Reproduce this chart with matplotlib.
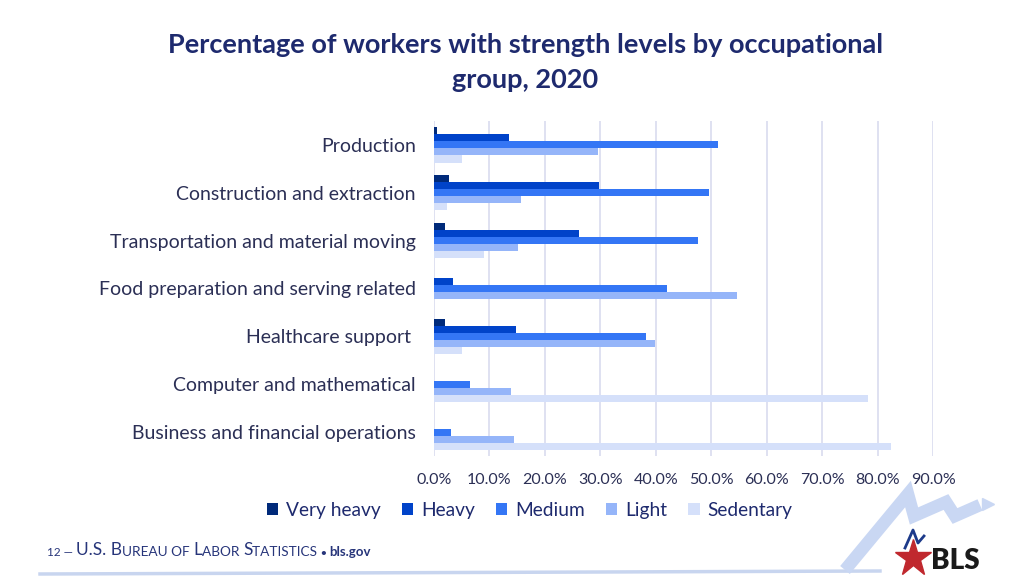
import matplotlib.pyplot as plt
import numpy as np

plt.rcParams['font.family'] = ['Lato', 'DejaVu Sans']

# occupational groups, top to bottom
groups = ["Production",
          "Construction and extraction",
          "Transportation and material moving",
          "Food preparation and serving related",
          "Healthcare support ",
          "Computer and mathematical",
          "Business and financial operations"]

levels = ["Very heavy", "Heavy", "Medium", "Light", "Sedentary"]

# percent of workers (0 = no bar shown)
very_heavy = [0.5, 2.7, 1.9, 0.0, 2.0, 0.0, 0.0]
heavy = [13.5, 29.8, 26.2, 3.4, 14.8, 0.0, 0.0]
medium = [51.2, 49.6, 47.6, 42.0, 38.3, 6.5, 3.0]
light = [29.6, 15.7, 15.2, 54.7, 39.9, 13.9, 14.4]
sedentary = [5.0, 2.3, 9.0, 0.0, 5.0, 78.3, 82.4]

colors = ['#002a7a', '#0043c9', '#3476f5', '#95b5f9', '#d5e0fa']
navy = '#1e2a6e'
foot_col = '#27357a'

fig = plt.figure(figsize=(10.24, 5.76), dpi=100)
ax = fig.add_axes([434 / 1024, 1 - 456 / 576, 499 / 1024, 335 / 576])

series = [very_heavy, heavy, medium, light, sedentary]
y = np.arange(len(groups))
h = 0.147
for k, (vals, lab) in enumerate(zip(series, levels)):
    ax.barh(y + (k - 2) * h, np.array(vals) / 100, height=h,
            color=colors[k], label=lab, zorder=3)

ticks = np.arange(0, 0.91, 0.1)
ax.set_xlim(0, 0.9)
ax.set_ylim(6.5, -0.5)
ax.set_xticks(ticks)
ax.set_xticklabels([f"{v * 100:.1f}%" for v in ticks])
ax.set_yticks(y)
ax.set_yticklabels(groups)
ax.grid(axis='x', color='#d9dcef', linewidth=1.2, zorder=0)
for s in ax.spines.values():
    s.set_visible(False)
ax.tick_params(axis='both', length=0, colors='#2b2f55')
ax.tick_params(axis='y', labelsize=14, pad=13)
ax.tick_params(axis='x', labelsize=11.5, pad=12)

fig.text(0.513, 0.922, "Percentage of workers with strength levels by occupational",
         ha='center', va='center', fontsize=19.5, fontweight='bold', color=navy)
fig.text(0.513, 0.861, "group, 2020",
         ha='center', va='center', fontsize=19.5, fontweight='bold', color=navy)

fig.legend(loc='center', bbox_to_anchor=(0.517, 0.114), ncol=5, frameon=False,
           fontsize=13.8, handlelength=0.6, handleheight=0.6, handletextpad=0.4,
           columnspacing=1.1, labelcolor=navy)

# footer, small caps built from pieces
foot = [("12 \u2014 ", 8.5, 'normal'), ("U.S. B", 12.5, 'normal'),
        ("UREAU OF ", 9.8, 'normal'), ("L", 12.5, 'normal'),
        ("ABOR ", 9.8, 'normal'), ("S", 12.5, 'normal'),
        ("TATISTICS ", 9.8, 'normal'), ("\u2022 ", 7, 'bold'),
        ("bls.gov", 9.5, 'bold')]
piece = None
for txt, fs, wt in foot:
    if piece is None:
        piece = fig.text(47 / 1024, 1 - 556 / 576, txt, fontsize=fs,
                         fontweight=wt, color=foot_col, va='baseline')
    else:
        piece = fig.add_artist(plt.Annotation(
            txt, xy=(1, 0), xycoords=piece, va='bottom', fontsize=fs,
            fontweight=wt, color=foot_col, annotation_clip=False))

# bottom rule and logo decoration
deco = fig.add_axes([0, 0, 1, 1], zorder=-1)
deco.set_xlim(0, 1024)
deco.set_ylim(576, 0)
deco.axis('off')
deco.plot([40, 880], [574, 571], color='#c8d5ef', linewidth=2.5)
arrow_x = [845, 908, 914, 946, 955, 980]
arrow_y = [570, 494, 516, 502, 516, 505]
deco.plot(arrow_x, arrow_y, color='#c9d7f3', linewidth=9,
          solid_joinstyle='miter', solid_capstyle='butt')
deco.plot([988], [504], marker='>', markersize=9, color='#c9d7f3')
deco.plot([913], [558], marker='*', markersize=28, color='#c0282e')
deco.plot([905, 913, 918, 924], [548, 530, 543, 536], color='#1d3a8a', linewidth=2)
deco.text(955, 561, "BLS", fontsize=20, fontweight='heavy', color='#1a1a1a',
          ha='center', va='center')

fig.savefig("out.png", dpi=100)
